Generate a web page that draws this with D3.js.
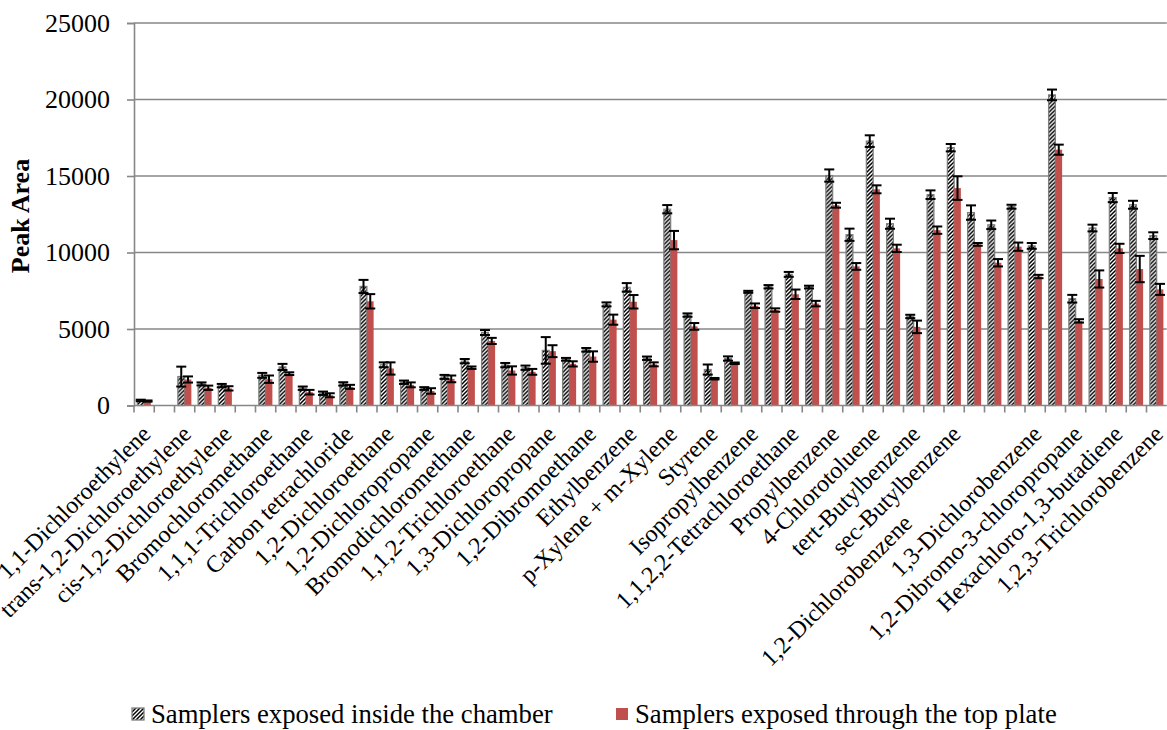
<!DOCTYPE html>
<html>
<head>
<meta charset="utf-8">
<script src="https://cdn.jsdelivr.net/npm/d3@7"></script>
<style>
  html, body { margin: 0; padding: 0; background: #fff; }
  svg { display: block; font-family: "Liberation Serif", "Times New Roman", serif; }
  .xlabel { white-space: pre; }
</style>
</head>
<body>
<svg id="chart" width="1167" height="730"></svg>
<script>
// Compounds in elution order (every second name is printed on the axis)
const categories = [
  "1,1-Dichloroethylene", "Methylene chloride", "trans-1,2-Dichloroethylene", "1,1-Dichloroethane",
  "cis-1,2-Dichloroethylene", "2,2-Dichloropropane", "Bromochloromethane", "Chloroform",
  "1,1,1-Trichloroethane", "1,1-Dichloropropene", "Carbon tetrachloride", "Benzene",
  "1,2-Dichloroethane", "Trichloroethylene", "1,2-Dichloropropane", "Dibromomethane",
  "Bromodichloromethane", "Toluene", "1,1,2-Trichloroethane", "Tetrachloroethylene",
  "1,3-Dichloropropane", "Dibromochloromethane", "1,2-Dibromoethane", "Chlorobenzene",
  "Ethylbenzene", "1,1,1,2-Tetrachloroethane", "p-Xylene + m-Xylene", "o-Xylene",
  "Styrene", "Bromoform", "Isopropylbenzene", "Bromobenzene",
  "1,1,2,2-Tetrachloroethane", "1,2,3-Trichloropropane", "Propylbenzene", "2-Chlorotoluene",
  "4-Chlorotoluene", "1,3,5-Trimethylbenzene", "tert-Butylbenzene", "1,2,4-Trimethylbenzene",
  "sec-Butylbenzene", "4-Isopropyltoluene", "1,2-Dichlorobenzene                     ", "1,4-Dichlorobenzene",
  "1,3-Dichlorobenzene", "n-Butylbenzene", "1,2-Dibromo-3-chloropropane", "1,2,4-Trichlorobenzene",
  "Hexachloro-1,3-butadiene", "Naphthalene", "1,2,3-Trichlorobenzene"
];

// Mean peak areas
const chamber = [
  330, null, 1890, 1410, 1300, null, 1970, 2520, 1130, 800,
  1410, 7780, 2660, 1520, 1110, 1870, 2900, 4770, 2640, 2470,
  3600, 3020, 3640, 6610, 7720, 3090, 12830, 5910, 2350, 3070,
  7430, 7760, 8570, 7740, 15030, 11160, 17280, 11880, 5820, 13780,
  16850, 12610, 11810, 12990, 10430, 20300, 6980, 11600, 13590, 13120,
  11100
];
const topPlate = [
  290, null, 1700, 1160, 1120, null, 1720, 2080, 870, 670,
  1220, 6810, 2420, 1350, 950, 1740, 2470, 4220, 2290, 2200,
  3550, 2720, 3200, 5610, 6780, 2690, 10810, 5170, 1750, 2760,
  6520, 6240, 7270, 6660, 13090, 9090, 14130, 10270, 5140, 11460,
  14210, 10530, 9330, 10380, 8430, 16720, 5530, 8270, 10270, 8920,
  7590
];

// Standard deviations
const chamberErr = [
  50, null, 650, 100, 110, null, 160, 200, 110, 110,
  110, 430, 160, 110, 90, 130, 140, 160, 140, 140,
  870, 90, 120, 130, 280, 110, 270, 110, 330, 140,
  65, 110, 160, 90, 400, 400, 380, 330, 110, 280,
  240, 470, 280, 130, 190, 350, 250, 220, 300, 260,
  220
];
const topPlateErr = [
  40, null, 200, 140, 140, null, 240, 90, 150, 130,
  130, 470, 400, 160, 180, 220, 80, 200, 270, 190,
  390, 170, 340, 330, 440, 130, 600, 220, 50, 50,
  150, 110, 310, 180, 160, 220, 260, 240, 410, 240,
  770, 90, 240, 270, 110, 330, 110, 560, 300, 860,
  360
];

const yTicks = [0, 5000, 10000, 15000, 20000, 25000];
const seriesNames = ["Samplers exposed inside the chamber", "Samplers exposed through the top plate"];
const yTitle = "Peak Area";

const svg = d3.select("#chart");

// Hatched fill for the chamber series
const defs = svg.append("defs");
const hatch = defs.append("pattern")
  .attr("id", "hatch")
  .attr("patternUnits", "userSpaceOnUse")
  .attr("width", 4).attr("height", 4);
hatch.append("rect").attr("width", 4).attr("height", 4).attr("fill", "#fff");
hatch.append("path")
  .attr("d", "M-1,1 l2,-2 M0,4 l4,-4 M3,5 l2,-2")
  .attr("stroke", "#000").attr("stroke-width", 1.5);

const plotLeft = 134, plotTop = 23, plotBottom = 405.5;
const step = 20.25;

const x = d3.scaleBand()
  .domain(categories)
  .range([plotLeft, plotLeft + step * categories.length]);
const xs = d3.scaleBand()
  .domain([0, 1])
  .range([0, x.bandwidth()])
  .paddingOuter(0.5);
const y = d3.scaleLinear().domain([0, 25000]).range([plotBottom, plotTop]);

const plotRight = x.range()[1];
const gridColor = "#878787";

// Horizontal gridlines
svg.append("g").selectAll("line")
  .data(yTicks.filter(t => t > 0))
  .join("line")
  .attr("x1", plotLeft).attr("x2", plotRight)
  .attr("y1", d => y(d)).attr("y2", d => y(d))
  .attr("stroke", gridColor).attr("stroke-width", 1.6);

// Y axis
const yAxis = svg.append("g")
  .attr("transform", `translate(${plotLeft},0)`)
  .call(d3.axisLeft(y).tickValues(yTicks).tickSize(7).tickPadding(17).tickFormat(d3.format("d")));
yAxis.select(".domain").attr("stroke", gridColor).attr("stroke-width", 1.6);
yAxis.selectAll(".tick line").attr("stroke", gridColor).attr("stroke-width", 1.6);
yAxis.selectAll(".tick text")
  .attr("font-family", "Liberation Serif, Times New Roman, serif")
  .attr("font-size", 26).attr("fill", "#000");

// Y title
svg.append("text")
  .attr("transform", `translate(29,216) rotate(-90)`)
  .attr("text-anchor", "middle")
  .attr("font-size", 26).attr("font-weight", "bold")
  .text(yTitle);

// Bars
const groups = categories.map((c, i) => ({
  cat: c,
  vals: [
    { s: 0, v: chamber[i], e: chamberErr[i] },
    { s: 1, v: topPlate[i], e: topPlateErr[i] }
  ].filter(d => d.v != null)
}));

const g = svg.append("g").selectAll("g")
  .data(groups)
  .join("g")
  .attr("transform", d => `translate(${x(d.cat)},0)`);

g.selectAll("rect")
  .data(d => d.vals)
  .join("rect")
  .attr("x", d => xs(d.s))
  .attr("width", xs.bandwidth())
  .attr("y", d => y(d.v))
  .attr("height", d => y(0) - y(d.v))
  .attr("fill", d => d.s === 0 ? "url(#hatch)" : "#C0504D")
  .attr("stroke", d => d.s === 0 ? "#7f7f7f" : "none")
  .attr("stroke-width", 1.3);

// Error bars
const cap = 5;
const eb = g.selectAll("g.err")
  .data(d => d.vals)
  .join("g").attr("class", "err")
  .attr("stroke", "#000").attr("stroke-width", 2);
eb.append("line")
  .attr("x1", d => xs(d.s) + xs.bandwidth() / 2).attr("x2", d => xs(d.s) + xs.bandwidth() / 2)
  .attr("y1", d => y(d.v + d.e)).attr("y2", d => y(d.v - d.e));
eb.append("line")
  .attr("x1", d => xs(d.s) + xs.bandwidth() / 2 - cap).attr("x2", d => xs(d.s) + xs.bandwidth() / 2 + cap)
  .attr("y1", d => y(d.v + d.e)).attr("y2", d => y(d.v + d.e));
eb.append("line")
  .attr("x1", d => xs(d.s) + xs.bandwidth() / 2 - cap).attr("x2", d => xs(d.s) + xs.bandwidth() / 2 + cap)
  .attr("y1", d => y(d.v - d.e)).attr("y2", d => y(d.v - d.e));

// X axis line and boundary ticks
svg.append("line")
  .attr("x1", plotLeft).attr("x2", plotRight)
  .attr("y1", y(0)).attr("y2", y(0))
  .attr("stroke", gridColor).attr("stroke-width", 1.6);
svg.append("g").selectAll("line")
  .data(categories)
  .join("line")
  .attr("x1", d => x(d)).attr("x2", d => x(d))
  .attr("y1", y(0)).attr("y2", y(0) + 7)
  .attr("stroke", gridColor).attr("stroke-width", 1.6);

// Category labels (every second one)
svg.append("g").selectAll("text")
  .data(categories.filter((c, i) => i % 2 === 0))
  .join("text")
  .attr("class", "xlabel")
  .attr("transform", d => `translate(${x(d) + x.bandwidth() / 2 + 8},${y(0) + 30}) rotate(-45)`)
  .attr("text-anchor", "end")
  .attr("font-size", 24)
  .text(d => d);

// Legend
const legend = svg.append("g");
const legendItems = [
  { name: seriesNames[0], x: 132, fill: "url(#hatch)", stroke: "#7f7f7f" },
  { name: seriesNames[1], x: 616, fill: "#C0504D", stroke: "none" }
];
const li = legend.selectAll("g").data(legendItems).join("g")
  .attr("transform", d => `translate(${d.x},708)`);
li.append("rect")
  .attr("width", 12).attr("height", 12)
  .attr("fill", d => d.fill).attr("stroke", d => d.stroke).attr("stroke-width", 1.3);
li.append("text")
  .attr("x", 19).attr("y", 15)
  .attr("font-size", 26.7)
  .text(d => d.name);
</script>
</body>
</html>
